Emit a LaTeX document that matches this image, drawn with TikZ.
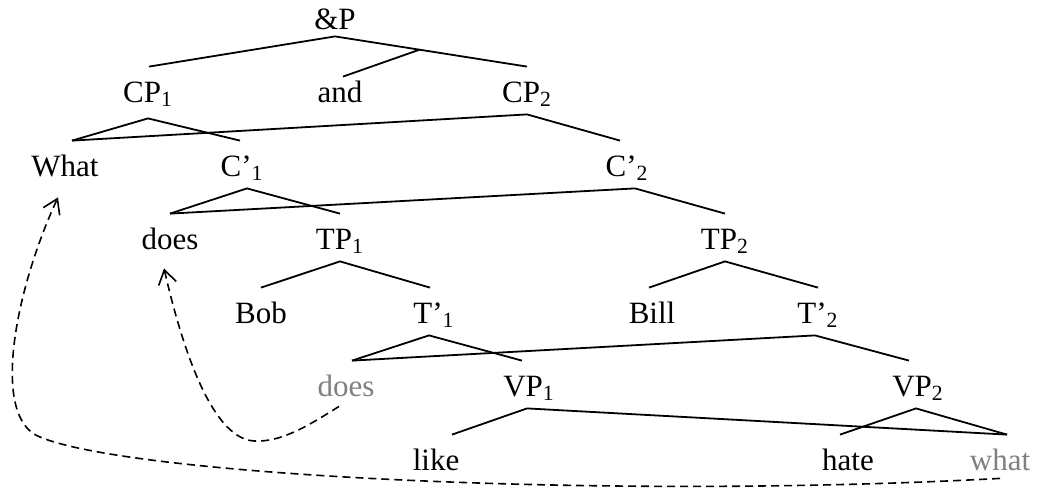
\documentclass[tikz,border=0pt]{standalone}
\usepackage{fontspec}
\setmainfont{Liberation Serif}
\usetikzlibrary{arrows.meta}
\definecolor{TraceGray}{HTML}{808080}
\tikzset{>={Straight Barb[length=7pt,width=9pt]},
 lbl/.style={anchor=base,inner sep=0pt,text height=17.5pt,text depth=6pt,
 font=\fontsize{15.5}{18}\selectfont},
 trace/.style={lbl,text=TraceGray},
 branch/.style={line width=0.9pt},
 move/.style={->,dash pattern=on 4pt off 2.5pt,line width=0.8pt}}

\begin{document}
\begin{tikzpicture}[x=0.5pt,y=-0.5pt]
\useasboundingbox (0,0) rectangle (1042,488);
% labels, row by row
\node[lbl] (ap) at (335,29) {\&P};
\node[lbl] (cp1) at (148,102) {CP\textsubscript{1}};
\node[lbl] (and) at (340,102) {and};
\node[lbl] (cp2) at (527,102) {CP\textsubscript{2}};
\node[lbl] (what) at (65,176) {What};
\node[lbl] (cb1) at (242,176) {C’\textsubscript{1}};
\node[lbl] (cb2) at (627,176) {C’\textsubscript{2}};
\node[lbl] (does1) at (170,249) {does};
\node[lbl] (tp1) at (340,249) {TP\textsubscript{1}};
\node[lbl] (tp2) at (725,249) {TP\textsubscript{2}};
\node[lbl] (bob) at (261,323) {Bob};
\node[lbl] (tb1) at (434,323) {T’\textsubscript{1}};
\node[lbl] (bill) at (652,323) {Bill};
\node[lbl] (tb2) at (818,323) {T’\textsubscript{2}};
\node[trace] (does2) at (346,396) {does};
\node[lbl] (vp1) at (529,396) {VP\textsubscript{1}};
\node[lbl] (vp2) at (918,396) {VP\textsubscript{2}};
\node[lbl] (like) at (436,470) {like};
\node[lbl] (hate) at (848,470) {hate};
\node[trace] (what2) at (1000,470) {what};
% branches
\draw[branch] ([xshift=.5pt]cp1.north) -- ([yshift=2.5pt]ap.south) -- coordinate[pos=.44] (apm) (cp2.north);
\draw[branch] ([xshift=1.5pt,yshift=-5pt]and.north) -- (apm);
\draw[branch] ([xshift=3.5pt]what.north) -- ([yshift=-2pt]cp1.south) -- ([xshift=-1pt]cb1.north);
\draw[branch] ([xshift=3.5pt]what.north) -- (cp2.south) -- ([xshift=-3.5pt]cb2.north);
\draw[branch] (does1.north) -- ([xshift=2.5pt]cb1.south) -- (tp1.north);
\draw[branch] (does1.north) -- ([xshift=4pt]cb2.south) -- (tp2.north);
\draw[branch] (bob.north) -- (tp1.south) -- ([xshift=-2pt]tb1.north);
\draw[branch] ([xshift=-1.5pt]bill.north) -- (tp2.south) -- (tb2.north);
\draw[branch] ([xshift=3pt]does2.north) -- ([xshift=-2.5pt]tb1.south) -- ([xshift=-3.5pt]vp1.north);
\draw[branch] ([xshift=3pt]does2.north) -- ([xshift=-1.5pt]tb2.south) -- ([xshift=-4.5pt]vp2.north);
\draw[branch] ([xshift=8pt]like.north) -- ([xshift=-1pt]vp1.south) -- ([xshift=3.5pt]what2.north);
\draw[branch] ([xshift=-4pt]hate.north) -- ([xshift=-1pt]vp2.south) -- ([xshift=3.5pt]what2.north);
% movement arrows
\draw[move] ([yshift=2pt]what2.south) .. controls (600,500) and (130,475) .. (40,437)
 .. controls (-10,418) and (15,290) .. ([xshift=-3.5pt,yshift=-4.5pt]what.south);
\draw[move] ([xshift=-3.5pt,yshift=1pt]does2.south) .. controls (305,428) and (280,442) .. (255,441)
 .. controls (215,440) and (185,360) .. ([xshift=-3pt,yshift=-3.5pt]does1.south);
\end{tikzpicture}
\end{document}
